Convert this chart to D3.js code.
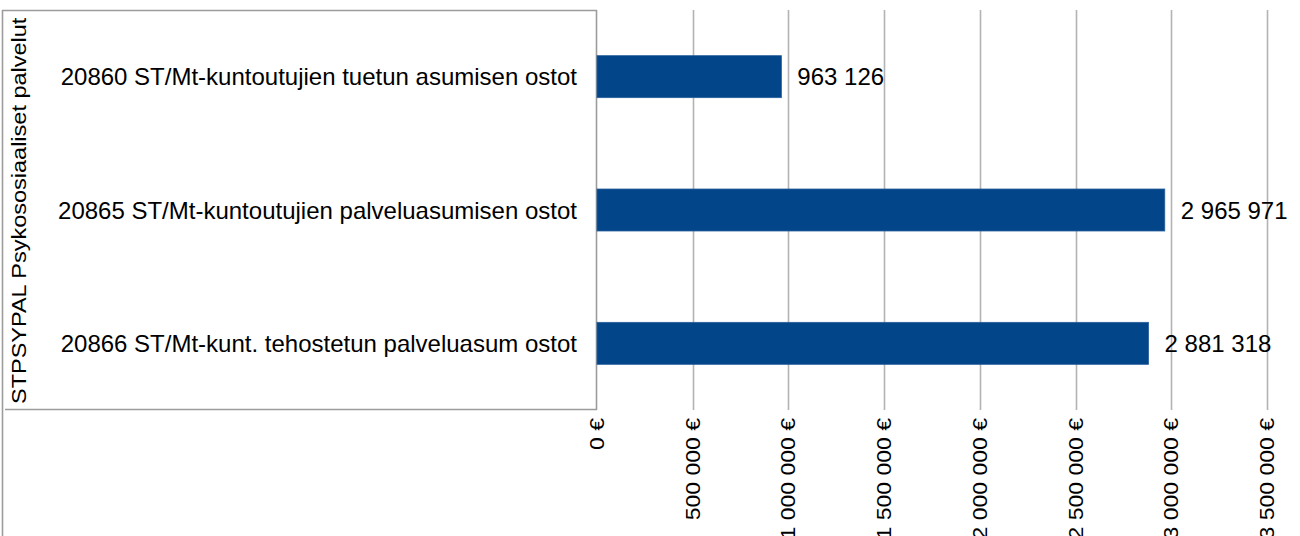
<!DOCTYPE html>
<html>
<head>
<meta charset="utf-8">
<script src="https://cdn.jsdelivr.net/npm/d3@7"></script>
<style>
  html, body { margin: 0; padding: 0; background: #ffffff; }
  svg { display: block; }
  text { font-family: "Liberation Sans", Arial, sans-serif; fill: #000; }
</style>
</head>
<body>
<script>
// Purchases of housing services, psychosocial services group
const groupTitle = "STPSYPAL Psykososiaaliset palvelut";
const categories = [
  "20860 ST/Mt-kuntoutujien tuetun asumisen ostot",
  "20865 ST/Mt-kuntoutujien palveluasumisen ostot",
  "20866 ST/Mt-kunt. tehostetun palveluasum ostot"
];
const values = [963126, 2965971, 2881318];
const tickValues = [0, 500000, 1000000, 1500000, 2000000, 2500000, 3000000, 3500000];

const W = 1300, H = 536;
const plot = { left: 597, right: 1267, top: 10, bottom: 410 };

const svg = d3.select("body").append("svg")
  .attr("width", W).attr("height", H);

const x = d3.scaleLinear().domain([0, 3500000]).range([plot.left, plot.right]);
const y = d3.scaleBand().domain(categories)
  .range([plot.top, plot.bottom])
  .paddingInner(0.685).paddingOuter(0.3425);

// number formatting with space as thousands separator
const fmt = v => d3.format(",")(v).replace(/,/g, " ");

// vertical gridlines
svg.append("g").selectAll("line")
  .data(tickValues.filter(d => d > 0))
  .join("line")
  .attr("x1", d => Math.round(x(d)) + 0.5).attr("x2", d => Math.round(x(d)) + 0.5)
  .attr("y1", plot.top).attr("y2", plot.bottom)
  .attr("stroke", "#b3b3b3").attr("stroke-width", 1.6);

// category frame
const frame = svg.append("g").attr("stroke", "#9c9c9c").attr("stroke-width", 1.6).attr("fill", "none");
frame.append("line").attr("x1", 2).attr("x2", plot.left).attr("y1", plot.top + 0.5).attr("y2", plot.top + 0.5);
frame.append("line").attr("x1", plot.left - 0.5).attr("x2", plot.left - 0.5).attr("y1", plot.top).attr("y2", plot.bottom);
frame.append("line").attr("x1", 5).attr("x2", plot.left).attr("y1", plot.bottom - 0.5).attr("y2", plot.bottom - 0.5);
frame.append("line").attr("x1", 2.5).attr("x2", 2.5).attr("y1", plot.top).attr("y2", H);

// bars
svg.append("g").selectAll("rect")
  .data(values)
  .join("rect")
  .attr("x", x(0))
  .attr("y", (d, i) => y(categories[i]))
  .attr("width", d => x(d) - x(0))
  .attr("height", y.bandwidth())
  .attr("fill", "#034589")
  .attr("stroke", "#2a5f9c").attr("stroke-width", 0.8);

// value labels
svg.append("g").selectAll("text")
  .data(values)
  .join("text")
  .attr("x", d => x(d) + 16)
  .attr("y", (d, i) => y(categories[i]) + y.bandwidth() / 2)
  .attr("dy", "0.36em")
  .attr("font-size", 24)
  .text(d => fmt(d));

// category labels
svg.append("g").selectAll("text")
  .data(categories)
  .join("text")
  .attr("x", 577)
  .attr("y", d => y(d) + y.bandwidth() / 2)
  .attr("dy", "0.36em")
  .attr("text-anchor", "end")
  .attr("font-size", 24)
  .text(d => d);

// rotated axis tick labels
svg.append("g").selectAll("text")
  .data(tickValues)
  .join("text")
  .attr("transform", d => `translate(${x(d)},418) rotate(-90) scale(1,0.84)`)
  .attr("text-anchor", "end")
  .attr("dy", "0.36em")
  .attr("font-size", 23)
  .text(d => fmt(d) + " €");

// group title, rotated
svg.append("text")
  .attr("transform", "translate(26,404) rotate(-90) scale(1,0.84)")
  .attr("text-anchor", "start")
  .attr("font-size", 23.5)
  .text(groupTitle);
</script>
</body>
</html>
